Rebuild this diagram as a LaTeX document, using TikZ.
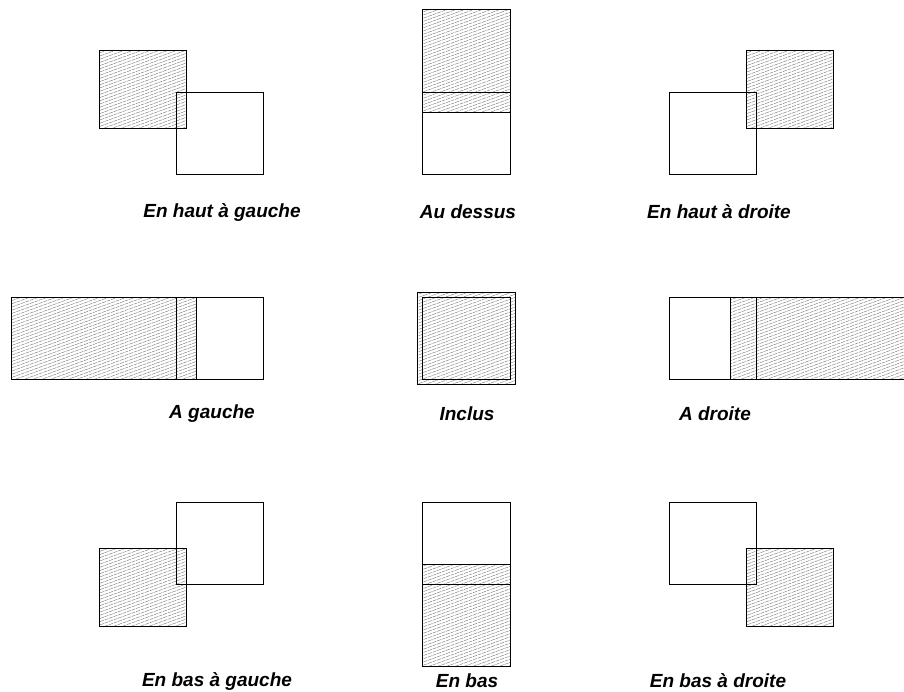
\documentclass[tikz,border=0pt]{standalone}
\usepackage{fontspec}
\setmainfont{Liberation Sans}

\begin{document}
\begin{tikzpicture}[x=1pt,y=-1pt,
    box/.style={draw,line width=0.9pt,inner sep=0pt,minimum width=87.5pt,minimum height=82pt},
    hatch/.style={draw,line width=0.9pt,inner sep=0pt,minimum width=87.5pt,minimum height=78pt,
        path picture={\foreach \k in {-20,...,52}
            \draw[black!55,line width=0.4pt,dash pattern=on 4pt off 0.8pt]
                ([shift={(-160,\k*3.2)}]path picture bounding box.center) -- ++(-20:340);}},
    txt/.style={font=\fontsize{19}{22}\selectfont\bfseries\itshape}]

    \clip (0,0) rectangle (904,691);

    \node[hatch] (hg1) at (142.75,89) {};
    \node[box] (hg2) at (219.75,133) {};
    \node[txt] (hg) at (222,212) {En haut à gauche};

    \node[hatch,minimum height=103pt] (ad1) at (466.25,60.8) {};
    \node[box] (ad2) at (466.25,133) {};
    \node[txt] (ad) at (468,212) {Au dessus};

    \node[hatch] (hd1) at (789.75,89) {};
    \node[box] (hd2) at (712.75,133) {};
    \node[txt] (hd) at (719,212) {En haut à droite};

    \node[hatch,minimum width=185pt,minimum height=82pt] (g1) at (104.2,338) {};
    \node[box] (g2) at (219.75,338) {};
    \node[txt] (g) at (212,414) {A gauche};

    \node[hatch,minimum width=98pt,minimum height=92pt] (in1) at (466,338.3) {};
    \node[box] (in2) at (466.25,338) {};
    \node[txt] (in) at (467,414) {Inclus};

    \node[hatch,minimum width=180pt,minimum height=82pt] (d1) at (820.7,338) {};
    \node[box] (d2) at (712.75,338) {};
    \node[txt] (d) at (715,414) {A droite};

    \node[hatch] (bg1) at (142.75,587.5) {};
    \node[box] (bg2) at (219.75,543.5) {};
    \node[txt] (bg) at (217,681) {En bas à gauche};

    \node[hatch,minimum height=102pt] (b1) at (466.25,615) {};
    \node[box] (b2) at (466.25,543.5) {};
    \node[txt] (b) at (467,681) {En bas};

    \node[hatch] (bd1) at (789.75,587.5) {};
    \node[box] (bd2) at (712.75,543.5) {};
    \node[txt] (bd) at (718,681) {En bas à droite};
\end{tikzpicture}
\end{document}
